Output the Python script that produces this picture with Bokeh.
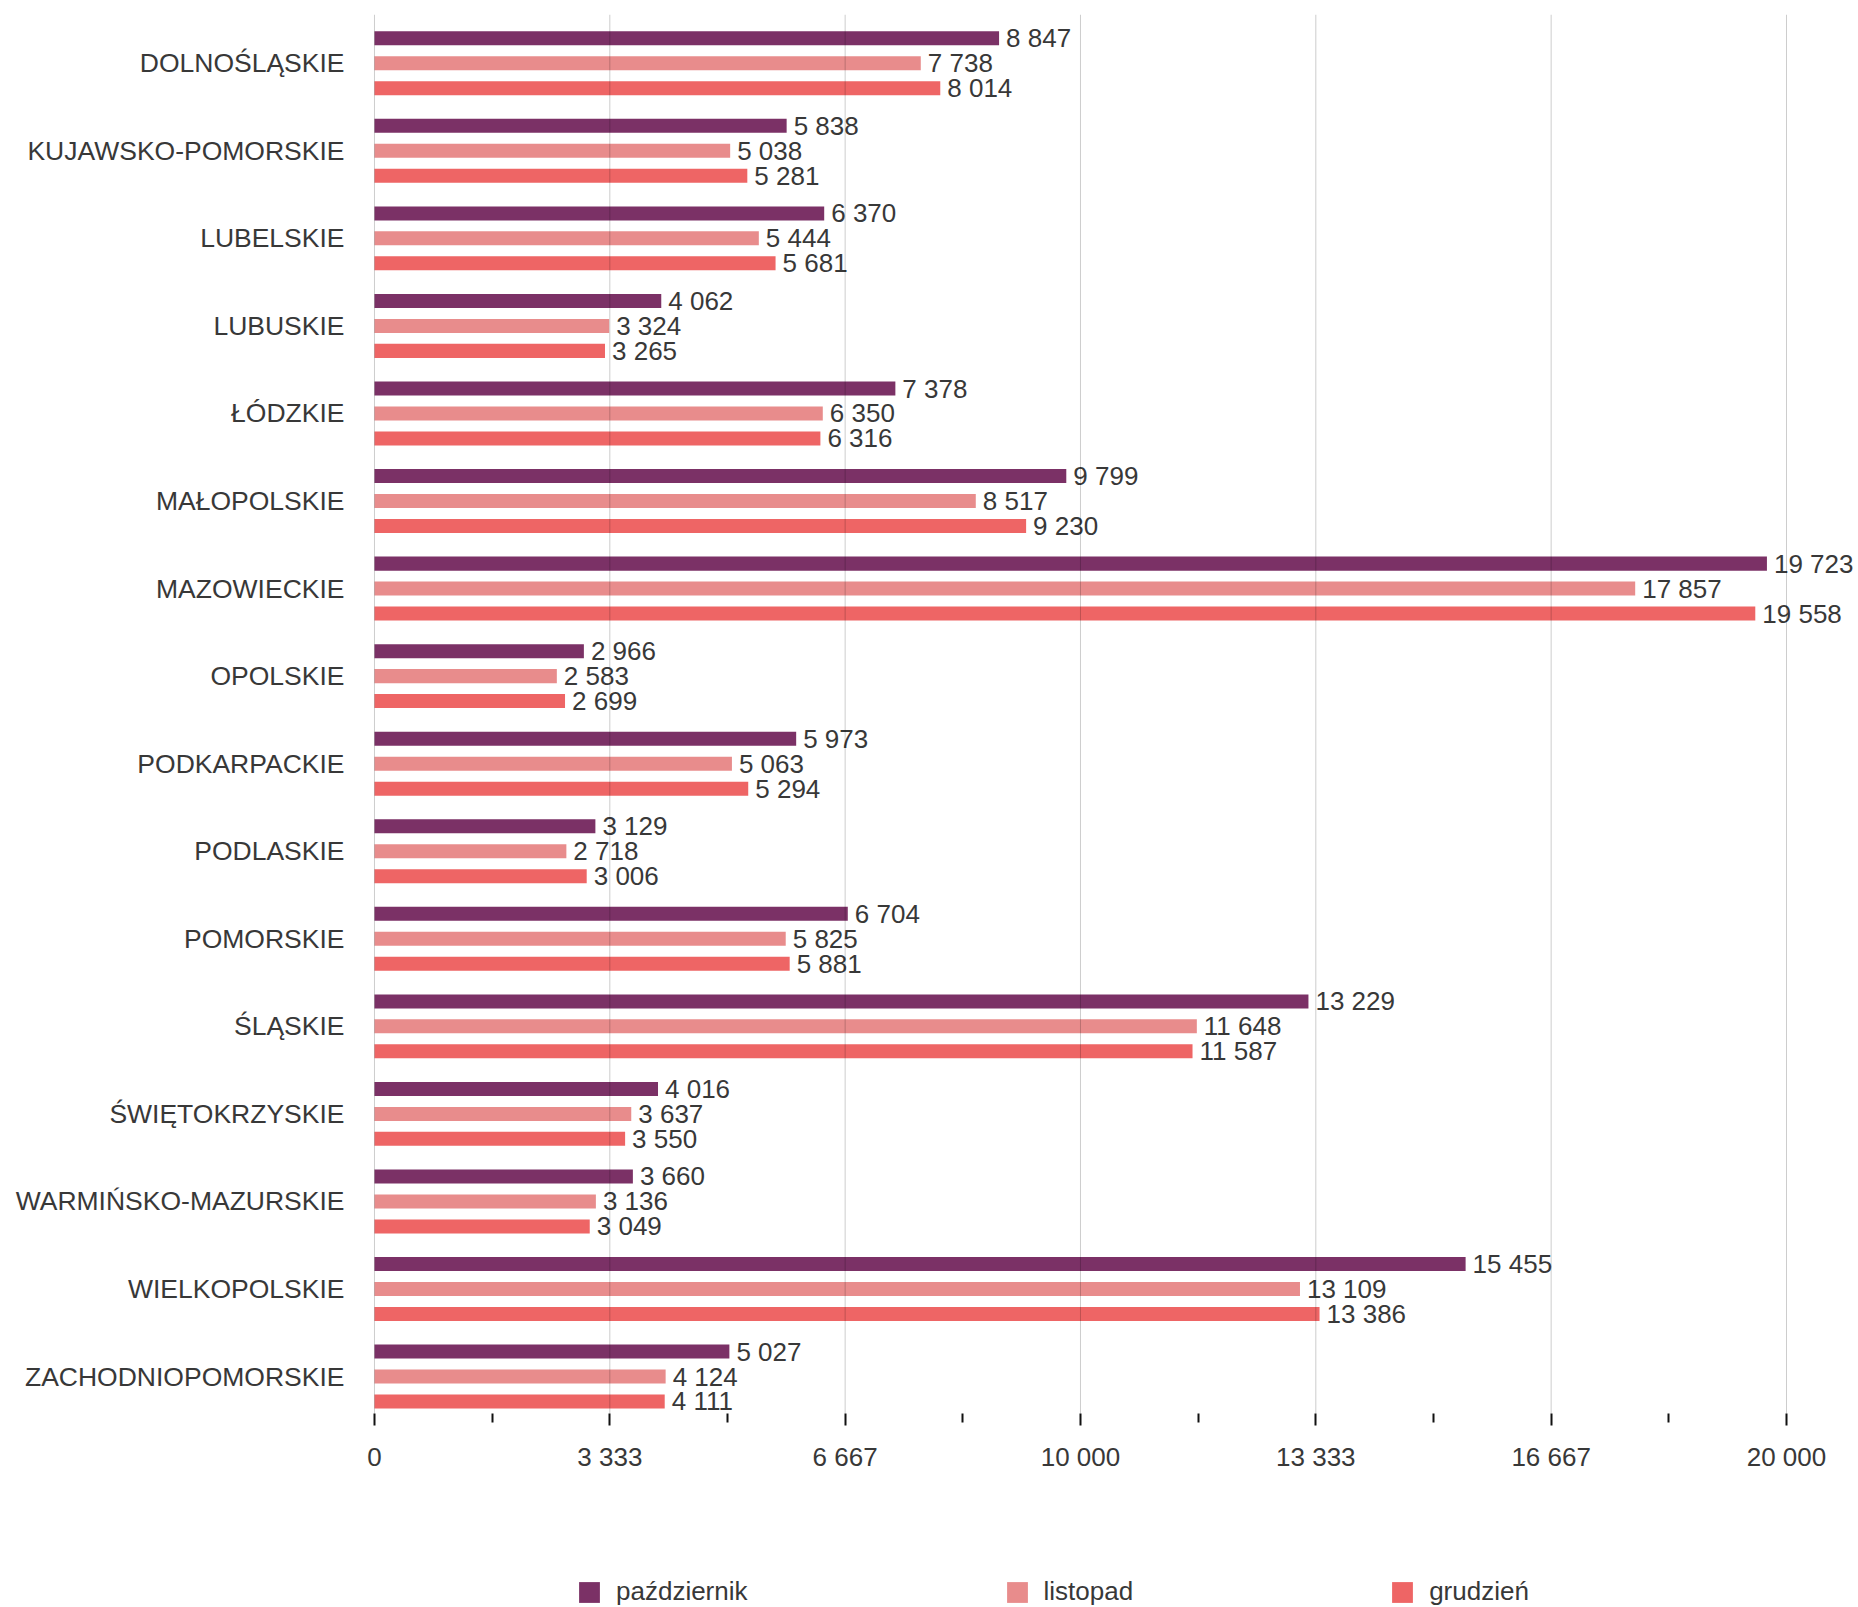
from bokeh.plotting import figure
from bokeh.models import ColumnDataSource, Range1d, FixedTicker, Legend, LegendItem
from bokeh.transform import dodge
from bokeh.core.properties import value
from bokeh.embed import file_html
from bokeh.resources import INLINE

regions = ["DOLNOŚLĄSKIE", "KUJAWSKO-POMORSKIE", "LUBELSKIE", "LUBUSKIE", "ŁÓDZKIE",
           "MAŁOPOLSKIE", "MAZOWIECKIE", "OPOLSKIE", "PODKARPACKIE", "PODLASKIE",
           "POMORSKIE", "ŚLĄSKIE", "ŚWIĘTOKRZYSKIE", "WARMIŃSKO-MAZURSKIE",
           "WIELKOPOLSKIE", "ZACHODNIOPOMORSKIE"]
pazdziernik = [8847, 5838, 6370, 4062, 7378, 9799, 19723, 2966, 5973, 3129, 6704, 13229, 4016, 3660, 15455, 5027]
listopad = [7738, 5038, 5444, 3324, 6350, 8517, 17857, 2583, 5063, 2718, 5825, 11648, 3637, 3136, 13109, 4124]
grudzien = [8014, 5281, 5681, 3265, 6316, 9230, 19558, 2699, 5294, 3006, 5881, 11587, 3550, 3049, 13386, 4111]
series_names = ["październik", "listopad", "grudzień"]
series_colors = ["#7B3166", "#E88C8C", "#EE6565"]
x_tick_values = [0, 20000 / 6, 40000 / 6, 10000, 80000 / 6, 100000 / 6, 20000]
x_tick_labels = ["0", "3 333", "6 667", "10 000", "13 333", "16 667", "20 000"]

FONT = "Liberation Sans"
TXT = "#383838"

Y_TOP = -0.557       # top of the bar area (category units)
Y_AXIS = 15.423      # where the value axis sits (bottom of the bar area)
Y_BOTTOM = 17.638    # bottom of the figure (room for the legend)


def fmt(v):
    return f"{v:,}".replace(",", " ")


src = ColumnDataSource(dict(
    y=list(range(len(regions))),
    s0=pazdziernik, s1=listopad, s2=grudzien,
    l0=[fmt(v) for v in pazdziernik],
    l1=[fmt(v) for v in listopad],
    l2=[fmt(v) for v in grudzien],
))

W, H = 1858, 1607
p = figure(width=W, height=H, output_backend="svg", toolbar_location=None,
           x_range=Range1d(-198, 21020), y_range=Range1d(Y_BOTTOM, Y_TOP),
           min_border_left=360, min_border_right=0, min_border_top=14,
           min_border_bottom=0)
p.outline_line_color = None
p.background_fill_color = "white"

offsets = [-0.285, 0.0, 0.285]
renderers = []
for i in range(3):
    r = p.hbar(y=dodge("y", offsets[i]), left=0, right=f"s{i}", height=0.16,
               source=src, fill_color=series_colors[i], line_color=None)
    renderers.append(r)
    p.text(x=f"s{i}", y=dodge("y", offsets[i]), text=f"l{i}", source=src,
           x_offset=7, text_baseline="middle", text_align="left",
           text_font=value(FONT), text_font_size="26px", text_color=TXT)

# vertical grid lines limited to the bar area, drawn over the bars
grid_src = ColumnDataSource(dict(x=x_tick_values,
                                 y0=[Y_TOP] * len(x_tick_values),
                                 y1=[Y_AXIS] * len(x_tick_values)))
p.segment(x0="x", y0="y0", x1="x", y1="y1", source=grid_src,
          line_color="#000000", line_alpha=0.2, line_width=1)

# axes
xa = p.xaxis[0]
xa.fixed_location = Y_AXIS
xa.ticker = FixedTicker(ticks=x_tick_values,
                        minor_ticks=[(x_tick_values[k] + x_tick_values[k + 1]) / 2 for k in range(6)])
xa.major_label_overrides = {v: t for v, t in zip(x_tick_values, x_tick_labels)}
xa.axis_line_color = None
xa.major_tick_in = 0
xa.major_tick_out = 12
xa.minor_tick_in = 0
xa.minor_tick_out = 9
xa.major_tick_line_color = "#111111"
xa.major_tick_line_width = 2
xa.minor_tick_line_color = "#111111"
xa.minor_tick_line_width = 2
xa.major_label_standoff = 16
xa.major_label_text_font = FONT
xa.major_label_text_font_size = "26px"
xa.major_label_text_color = TXT

ya = p.yaxis[0]
ya.ticker = FixedTicker(ticks=list(range(len(regions))), minor_ticks=[])
ya.major_label_overrides = {i: n for i, n in enumerate(regions)}
ya.axis_line_color = None
ya.major_tick_line_color = None
ya.minor_tick_line_color = None
ya.major_label_standoff = 10
ya.major_label_text_font = FONT
ya.major_label_text_font_size = "26.5px"
ya.major_label_text_color = TXT

p.xgrid.grid_line_color = None
p.ygrid.grid_line_color = None

legend = Legend(items=[LegendItem(label=series_names[i], renderers=[renderers[i]]) for i in range(3)],
                orientation="horizontal", location=(216, 0),
                glyph_width=26, glyph_height=26, label_standoff=14, spacing=256,
                padding=0, margin=0, border_line_color=None, background_fill_alpha=0,
                label_text_font=FONT, label_text_font_size="26px", label_text_color=TXT,
                label_height=26)
p.add_layout(legend, "center")

open("out.html", "w").write(file_html(p, INLINE))
